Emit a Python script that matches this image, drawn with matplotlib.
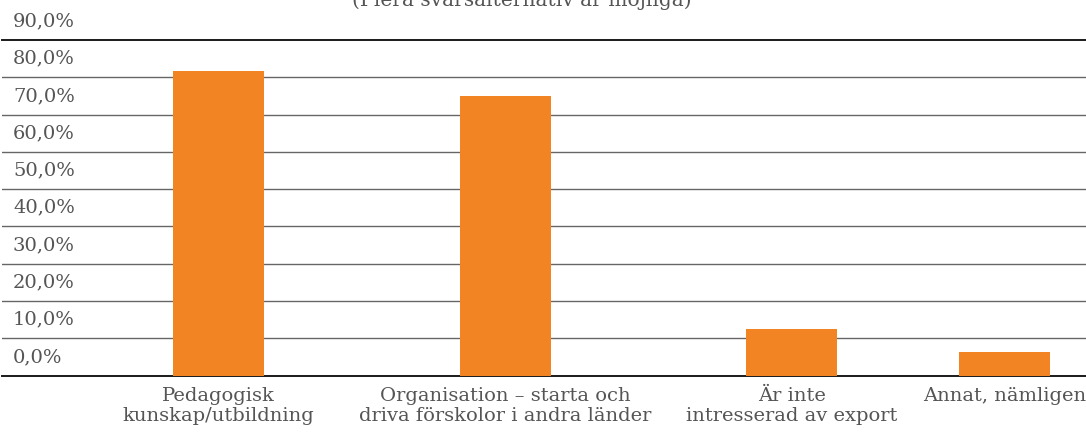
import numpy as np
import matplotlib.pyplot as plt
from matplotlib.transforms import blended_transform_factory

categories = ["Pedagogisk\nkunskap/utbildning",
              "Organisation – starta och\ndriva förskolor i andra länder",
              "Är inte\nintresserad av export",
              "Annat, nämligen"]
values = [81.8, 75.0, 12.5, 6.3]
yticks = [0, 10, 20, 30, 40, 50, 60, 70, 80, 90]
ytick_labels = ["0,0%", "10,0%", "20,0%", "30,0%", "40,0%",
                "50,0%", "60,0%", "70,0%", "80,0%", "90,0%"]
subtitle = "(Flera svarsalternativ är möjliga)"

# category slots in the source are not evenly spaced (last column is narrower)
xpos = [0, 1, 2, 2.745]

text_col = "#555555"
bar_col = "#F28423"
plt.rcParams["font.family"] = ["DejaVu Serif"]

W, H = 1086, 432
fig = plt.figure(figsize=(W / 100, H / 100), dpi=100)
ax = fig.add_axes([2 / W, 1 - 375.5 / H, 1 - 2 / W, (375.5 - 40) / H])

ax.bar(xpos, values, width=91 / 286.5, color=bar_col, zorder=3)

for v in yticks:
    if v in (0, 90):
        ax.axhline(v, color="#1a1a1a", lw=1.4, zorder=2, clip_on=False)
    else:
        ax.axhline(v, color="#666666", lw=1.0, zorder=2)

trans = blended_transform_factory(ax.transAxes, ax.transData)
for v, lab in zip(yticks, ytick_labels):
    ax.text(11 / W, v + 5, lab, transform=trans, ha="left", va="center",
            fontsize=14, color=text_col, clip_on=False)

ax.set_xlim(-(218.5 - 2) / 286.5, (W - 218.5) / 286.5)
ax.set_ylim(0, 90)
ax.set_xticks(xpos)
ax.set_xticklabels(categories, fontsize=14, color=text_col, linespacing=1.2)
ax.tick_params(axis="x", length=0, pad=8)
ax.set_yticks([])
for s in ax.spines.values():
    s.set_visible(False)

fig.text(522 / W, 1 - 6 / H, subtitle, ha="center", va="baseline",
         fontsize=14.5, color=text_col)

fig.savefig("out.png", dpi=100)
